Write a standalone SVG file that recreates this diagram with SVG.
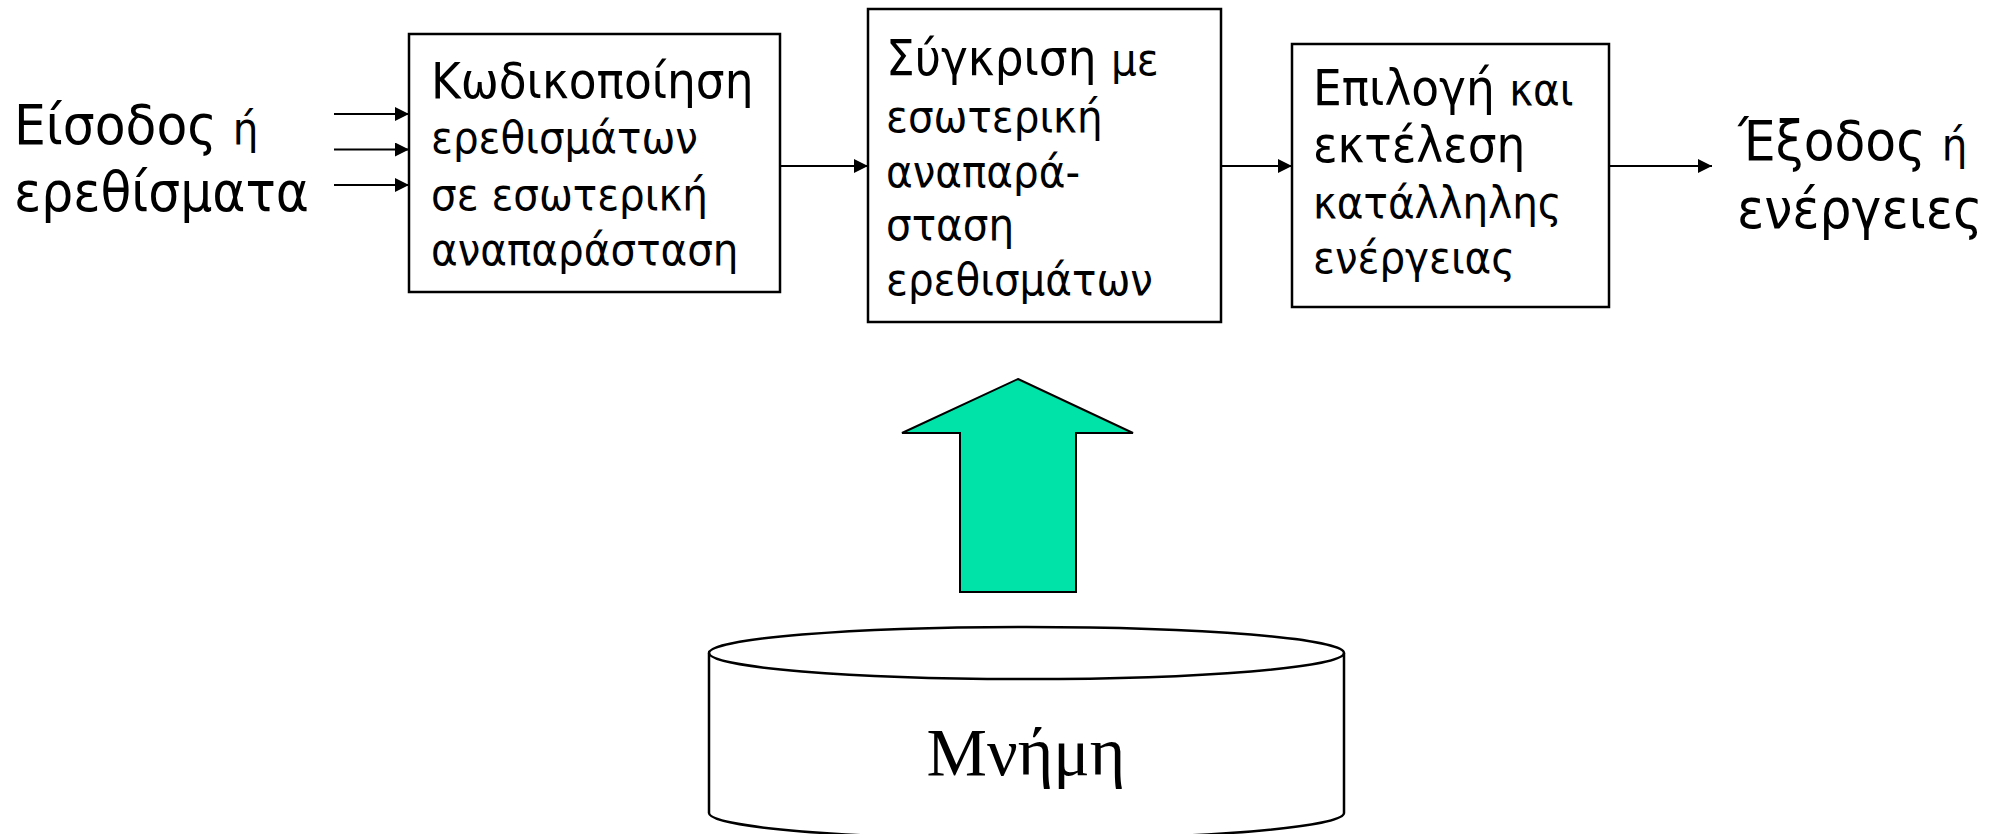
<svg xmlns="http://www.w3.org/2000/svg" width="1997" height="834" viewBox="0 0 1997 834">
<defs>
<marker id="ah" viewBox="0 0 10 10" refX="10" refY="5" markerWidth="8" markerHeight="7" markerUnits="strokeWidth" orient="auto">
<path d="M0,0 L10,5 L0,10 Z" fill="#000"/>
</marker>
<style>
.t{font-family:"DejaVu Sans Condensed","DejaVu Sans",sans-serif;fill:#000}
.L{font-size:50.5px}
.S{font-size:45px}
.O{font-size:56px}
.box{fill:#fff;stroke:#000;stroke-width:2.5}
.con{stroke:#000;stroke-width:2;fill:none;marker-end:url(#ah)}
</style>
</defs>
<rect width="1997" height="834" fill="#fff"/>
<g id="input">
<text class="t O" x="14" y="144">Είσοδος <tspan class="S">ή</tspan></text>
<text class="t O" x="14" y="211">ερεθίσματα</text>
</g>
<g id="encode">
<rect class="box" x="409" y="34" width="371" height="258"/>
<text class="t L" x="431" y="98">Κωδικοποίηση</text>
<text class="t S" x="431" y="153">ερεθισμάτων</text>
<text class="t S" x="431" y="210">σε εσωτερική</text>
<text class="t S" x="431" y="265">αναπαράσταση</text>
</g>
<g id="compare">
<rect class="box" x="868" y="9" width="353" height="313"/>
<text class="t L" x="886" y="75">Σύγκριση <tspan class="S">με</tspan></text>
<text class="t S" x="886" y="132">εσωτερική</text>
<text class="t S" x="886" y="187">αναπαρά-</text>
<text class="t S" x="886" y="240">σταση</text>
<text class="t S" x="886" y="295">ερεθισμάτων</text>
</g>
<g id="select">
<rect class="box" x="1292" y="44" width="317" height="263"/>
<text class="t L" x="1313" y="105">Επιλογή <tspan class="S">και</tspan></text>
<text class="t L" x="1313" y="162">εκτέλεση</text>
<text class="t S" x="1313" y="218">κατάλληλης</text>
<text class="t S" x="1313" y="273">ενέργειας</text>
</g>
<g id="output">
<text class="t O" x="1738" y="160">Έξοδος <tspan class="S">ή</tspan></text>
<text class="t O" x="1737" y="228">ενέργειες</text>
</g>
<g id="memory">
<path d="M709,653 V813 A317.5,26 0 0 0 1344,813 V653 A317.5,26 0 0 0 709,653 Z" fill="#fff" stroke="#000" stroke-width="2.5"/>
<path d="M709,653 A317.5,26 0 0 0 1344,653" fill="none" stroke="#000" stroke-width="2.5"/>
<text x="1026" y="775" text-anchor="middle" font-family="'Liberation Serif','Times New Roman',serif" font-size="68" fill="#000">Μνήμη</text>
</g>
<g id="retrieve">
<polygon points="1018,379 1133,433 1076,433 1076,592 960,592 960,433 902,433" fill="#00E3A8" stroke="#000" stroke-width="2"/>
</g>
<g id="connectors">
<line class="con" x1="334" y1="114" x2="409" y2="114"/>
<line class="con" x1="334" y1="149.5" x2="409" y2="149.5"/>
<line class="con" x1="334" y1="185" x2="409" y2="185"/>
<line class="con" x1="780" y1="166" x2="868" y2="166"/>
<line class="con" x1="1221" y1="166" x2="1292" y2="166"/>
<line class="con" x1="1609" y1="166" x2="1712" y2="166"/>
</g>
</svg>
